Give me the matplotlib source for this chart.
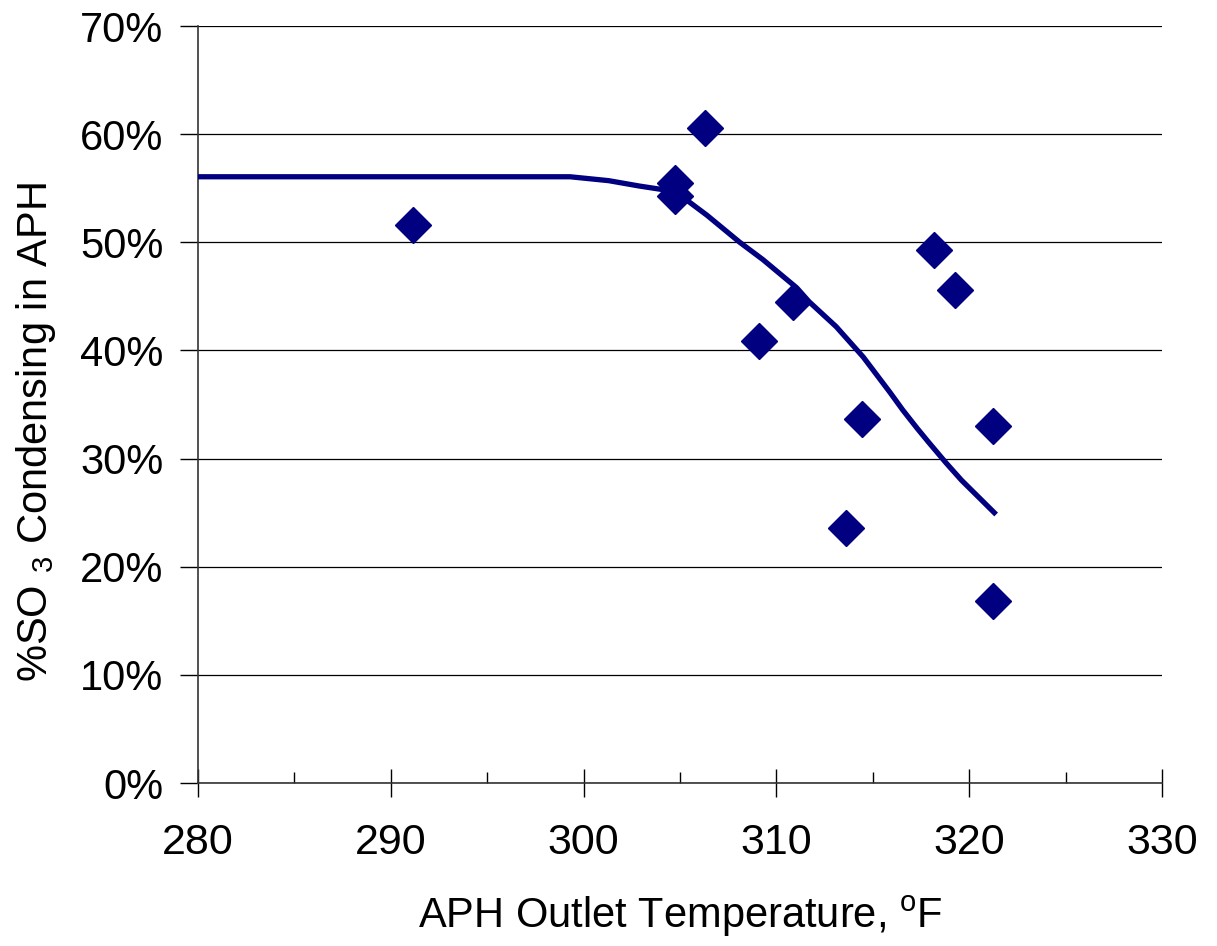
import numpy as np
import matplotlib
matplotlib.use("Agg")
import matplotlib.pyplot as plt
import matplotlib.ticker as ticker

plt.rcParams['font.family'] = ['Liberation Sans', 'DejaVu Sans']
plt.rcParams['mathtext.fontset'] = 'custom'
plt.rcParams['mathtext.rm'] = 'Liberation Sans'
plt.rcParams['mathtext.it'] = 'Liberation Sans'

# measured points (APH outlet temp, degF ; % SO3 condensing)
temp_pts = [291.15, 304.74, 304.74, 306.3, 309.1, 310.86, 314.43, 313.6, 318.2, 319.27, 321.22, 321.22]
so3_pts = [51.6, 55.5, 54.3, 60.6, 40.9, 44.5, 33.7, 23.6, 49.3, 45.6, 33.0, 16.8]

# model curve
temp_fit = [280, 299.3, 301.3, 302.9, 304.0, 304.7, 305.5, 306.4, 308.1, 309.3, 311.05, 311.7,
            313.1, 314.5, 315.9, 316.55, 317.3, 317.9, 318.8, 319.6, 321.3]
so3_fit = [56.06, 56.06, 55.7, 55.2, 54.9, 54.76, 53.7, 52.5, 50.0, 48.4, 45.8, 44.5,
           42.2, 39.4, 36.1, 34.5, 32.8, 31.5, 29.6, 28.0, 25.0]

navy = '#000080'

fig = plt.figure(figsize=(12.17, 9.46), dpi=100)
ax = fig.add_axes([0.1627, 0.1723, 0.7921, 0.8002])

ax.plot(temp_fit, so3_fit, color=navy, lw=3.8, zorder=3)
ax.plot(temp_pts, so3_pts, 'D', color=navy, ms=18, mec=navy, zorder=4)

ax.set_xlim(280, 330)
ax.set_ylim(0, 70)
ax.xaxis.set_major_locator(ticker.MultipleLocator(10))
ax.xaxis.set_minor_locator(ticker.MultipleLocator(5))
ax.yaxis.set_major_locator(ticker.MultipleLocator(10))
ax.yaxis.set_major_formatter(ticker.FuncFormatter(lambda v, p: '%d%%' % v))

ax.grid(axis='y', color='black', lw=0.9)
ax.set_axisbelow(True)
for s in ['top', 'right']:
    ax.spines[s].set_visible(False)
for s in ['left', 'bottom']:
    ax.spines[s].set_linewidth(1.2)
    ax.spines[s].set_color('#333333')

ax.tick_params(axis='x', which='major', direction='inout', length=20, width=1, labelsize=31, pad=19)
ax.tick_params(axis='x', which='minor', direction='in', length=8, width=1)
ax.tick_params(axis='y', which='major', direction='out', length=13, width=1, labelsize=30, pad=12)

ax.set_xlabel('APH Outlet Temperature, $^{\\mathrm{o}}$F', fontsize=30, labelpad=22)
ax.set_ylabel('%SO $_{\\mathrm{3}}$ Condensing in APH', fontsize=30, labelpad=16)
ax.yaxis.label.set_y(0.464)

fig.savefig('out.png', dpi=100)
